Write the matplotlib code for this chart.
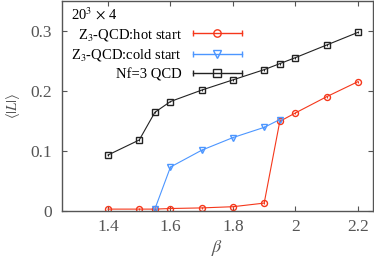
import matplotlib
matplotlib.use("Agg")
import matplotlib.pyplot as plt
from matplotlib.lines import Line2D
from matplotlib.legend_handler import HandlerLine2D, HandlerTuple

plt.rcParams["font.family"] = ["Liberation Serif", "DejaVu Serif"]
plt.rcParams["mathtext.fontset"] = "stix"

# ---- data ----
beta_hot = [1.4, 1.5, 1.55, 1.6, 1.7, 1.8, 1.9, 1.95, 2.0, 2.1, 2.2]
L_hot = [0.003, 0.003, 0.003, 0.004, 0.005, 0.007, 0.013, 0.149, 0.163, 0.190, 0.215]

beta_cold = [1.55, 1.6, 1.7, 1.8, 1.9, 1.95]
L_cold = [0.003, 0.073, 0.101, 0.122, 0.139, 0.152]

beta_qcd = [1.4, 1.5, 1.55, 1.6, 1.7, 1.8, 1.9, 1.95, 2.0, 2.1, 2.2]
L_qcd = [0.093, 0.118, 0.164, 0.182, 0.201, 0.218, 0.235, 0.245, 0.255, 0.276, 0.297]

err = 0.0015

RED = "#f5371b"
BLUE = "#4c96ff"
BLACK = "#222222"
GRAY = "#555555"

fig = plt.figure(figsize=(3.74, 2.68), dpi=100)
ax = fig.add_axes([0.166, 0.213, 0.831, 0.785])

series = [
    (beta_hot, L_hot, RED, "o", "Z$_3$-QCD:hot start", 4.3),
    (beta_cold, L_cold, BLUE, "v", "Z$_3$-QCD:cold start", 4.6),
    (beta_qcd, L_qcd, BLACK, "s", "Nf=3 QCD", 4.3),
]

handles, labels, hmap = [], [], {}
for x, y, c, m, lab, ms in series:
    ax.errorbar(x, y, yerr=err, color=c, marker=m, ms=ms, mfc="none",
                mec=c, mew=1.0, lw=0.8, elinewidth=0.8, capsize=0)
    cap = Line2D([], [], color=c, lw=1.0, marker="|", ms=4, mew=1.0)
    mk = Line2D([], [], color=c, lw=0, marker=m, ms=ms + 1.0, mfc="none",
                mec=c, mew=1.0)
    hmap[cap] = HandlerLine2D(numpoints=2, marker_pad=0.0)
    handles.append((cap, mk))
    labels.append(lab)

hmap[tuple] = HandlerTuple(ndivide=1, pad=0)

ax.set_xlim(1.253, 2.248)
ax.set_ylim(0, 0.35)
ax.set_xticks([1.4, 1.6, 1.8, 2.0, 2.2])
ax.set_xticklabels(["1.4", "1.6", "1.8", "2", "2.2"])
ax.set_yticks([0, 0.1, 0.2, 0.3])
ax.set_yticklabels(["0", "0.1", "0.2", "0.3"])

ax.tick_params(direction="in", length=3.5, width=0.8, colors=GRAY,
               labelsize=12.5, top=True, right=True, pad=6)
ax.tick_params(axis="y", pad=7)
for s in ax.spines.values():
    s.set_color(GRAY)
    s.set_linewidth(1.0)

ax.set_xlabel(r"$\beta$", fontsize=13, color=GRAY, labelpad=2)
ax.set_ylabel(r"$\langle|L|\rangle$", fontsize=10.5, color=GRAY, labelpad=6)

leg = ax.legend(handles, labels, handler_map=hmap, loc="upper left",
                bbox_to_anchor=(0.01, 1.0), frameon=False, fontsize=10.5,
                markerfirst=False, handlelength=3.4, handletextpad=0.75,
                labelspacing=0.3, borderaxespad=0.2, borderpad=0.2,
                title=r"20$^3$ $\times$ 4", title_fontsize=10.5,
                alignment="left")

fig.savefig("out.png", dpi=100)
